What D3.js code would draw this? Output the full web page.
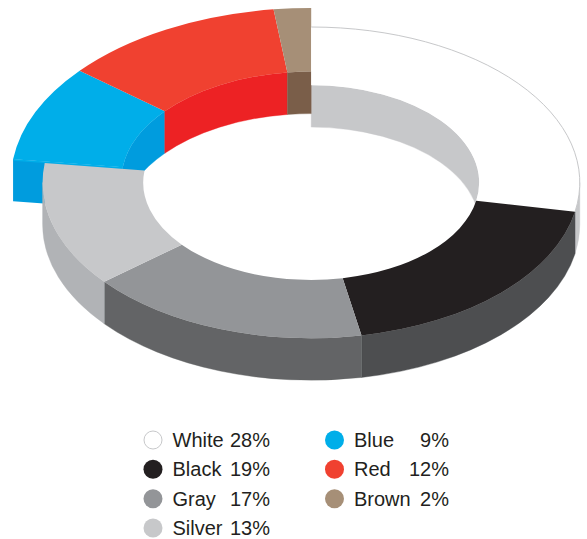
<!DOCTYPE html>
<html lang="en">
<head>
  <meta charset="UTF-8" />
  <title>Car colours donut</title>
  <script src="https://d3js.org/d3.v7.min.js"></script>
  <style>
    body {
      margin: 0;
      background: #fff;
    }
    svg {
      display: block;
    }
    .legend text {
      font-family: "Liberation Sans", sans-serif;
      font-size: 20px;
      fill: #231f20;
    }
  </style>
</head>
<body>
<svg width="587" height="539"></svg>
<script>
const categories = ["White", "Black", "Gray", "Silver", "Blue", "Red", "Brown"];
const values = [28, 19, 17, 13, 9, 12, 2];
const raised = ["Blue", "Red", "Brown"];

const faceColors = ["#ffffff", "#231f20", "#939598", "#c7c8ca", "#00aee9", "#f04130", "#a68f77"];
const wallColors = ["#c7c8ca", "#4d4e50", "#636466", "#b1b3b6", "#009cde", "#ed2224", "#7a5e49"];

const svg = d3.select("svg");
const depth = 42;

// the ring is a circle squashed into an ellipse, raised slices are a bigger one
const flat = { cx: 311.2, cy: 182.6, rx: 268.6, ry: 155.6, irx: 168, iry: 97.5 };
const lifted = { cx: 311.2, cy: 181, rx: 300.5, ry: 173, irx: 190, iry: 109.4 };

const slices = d3.pie().sort(null).value(d => d)(values).map((d, i) => {
  const name = categories[i];
  return { ...d, name, i, geo: raised.includes(name) ? lifted : flat };
});

const pt = (cx, cy, rx, ry, a, dy = 0) =>
  [cx + rx * Math.sin(a), cy - ry * Math.cos(a) + dy];

// curved band: arc a0..a1 on top, same arc moved down by depth coming back
function wall(cx, cy, rx, ry, a0, a1) {
  const p0 = pt(cx, cy, rx, ry, a0), p1 = pt(cx, cy, rx, ry, a1);
  const q0 = pt(cx, cy, rx, ry, a0, depth), q1 = pt(cx, cy, rx, ry, a1, depth);
  return `M${p0}A${rx},${ry} 0 0 1 ${p1}L${q1}A${rx},${ry} 0 0 0 ${q0}Z`;
}

function drawWall(d, rx, ry, a0, a1) {
  svg.append("path")
    .attr("d", wall(d.geo.cx, d.geo.cy, rx, ry, a0, a1))
    .attr("fill", wallColors[d.i])
    .attr("stroke", wallColors[d.i])
    .attr("stroke-width", 0.4);
}

function drawFace(d) {
  const g = d.geo;
  const arc = d3.arc().innerRadius(g.irx).outerRadius(g.rx);
  // inner and outer ellipses have nearly the same ratio, so one scale is enough
  svg.append("path")
    .attr("transform", `translate(${g.cx},${g.cy}) scale(1,${g.ry / g.rx})`)
    .attr("d", arc(d))
    .attr("fill", faceColors[d.i]);
}

// inner walls, seen through the hole
slices.filter(d => d.geo === lifted || d.name === "White").forEach(d => {
  drawWall(d, d.geo.irx, d.geo.iry, d.startAngle, d.endAngle);
});

// cut end of the blue slice, where it stands off the silver one
const blue = slices[categories.indexOf("Blue")];
const b = blue.geo;
const bo = pt(b.cx, b.cy, b.rx, b.ry, blue.startAngle);
const bi = pt(b.cx, b.cy, b.irx, b.iry, blue.startAngle);
svg.append("path")
  .attr("d", `M${bo}L${bi}L${bi[0]},${bi[1] + depth}L${bo[0]},${bo[1] + depth}Z`)
  .attr("fill", wallColors[blue.i]);
// blue face runs right down to the silver edge
svg.append("path")
  .attr("d", `M${bo}L${bi}L${bi[0]},${bi[1] + 1.5}L${bo[0]},${bo[1] + 1.5}Z`)
  .attr("fill", faceColors[blue.i]);

slices.filter(d => d.geo === lifted).forEach(drawFace);

// outer walls, only the front half of the ellipse shows
slices.filter(d => d.geo === flat).forEach(d => {
  const a0 = Math.max(d.startAngle, Math.PI / 2);
  const a1 = Math.min(d.endAngle, Math.PI * 1.5);
  if (a1 > a0) drawWall(d, d.geo.rx, d.geo.ry, a0, a1);
});

slices.filter(d => d.geo === flat).forEach(drawFace);

// thin rim on the white slice
const white = slices[0];
const w0 = pt(flat.cx, flat.cy, flat.rx, flat.ry, white.startAngle);
const w1 = pt(flat.cx, flat.cy, flat.rx, flat.ry, white.endAngle);
svg.append("path")
  .attr("d", `M${w0}A${flat.rx},${flat.ry} 0 0 1 ${w1}`)
  .attr("fill", "none")
  .attr("stroke", "#c7c8ca")
  .attr("stroke-width", 1);

// legend
const rowY = d3.scalePoint().domain([0, 1, 2, 3]).range([440, 528]);
const legend = svg.append("g").attr("class", "legend");
const item = legend.selectAll("g")
  .data(categories)
  .join("g")
  .attr("transform", (d, i) => i < 4
    ? `translate(153,${rowY(i)})`
    : `translate(334.5,${rowY(i - 4)})`);

item.append("circle")
  .attr("r", (d, i) => i === 0 ? 9 : 9.5)
  .attr("fill", (d, i) => faceColors[i])
  .attr("stroke", (d, i) => i === 0 ? "#c7c8ca" : "none");

item.append("text")
  .attr("x", 19.5)
  .attr("y", 7)
  .text(d => d);

item.append("text")
  .attr("x", (d, i) => i < 4 ? 117 : 114.5)
  .attr("y", 7)
  .attr("text-anchor", "end")
  .text((d, i) => `${values[i]}%`);
</script>
</body>
</html>
